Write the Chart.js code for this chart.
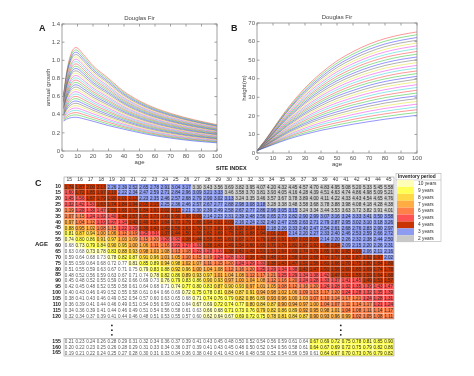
<!DOCTYPE html>
<html>
<head>
<meta charset="utf-8">
<script src="https://cdn.jsdelivr.net/npm/chart.js@4.4.1/dist/chart.umd.min.js"></script>
<style>
  body { margin: 0; background: #fff; width: 474px; height: 376px; position: relative; overflow: hidden;
         font-family: "Liberation Sans", Arial, sans-serif; }
  canvas { position: absolute; }
  .lbl { position: absolute; font-weight: bold; color: #222; line-height: 1; white-space: nowrap; }
</style>
</head>
<body>
<canvas id="chartA" width="237" height="175" style="left:0;top:0"></canvas>
<canvas id="chartB" width="237" height="175" style="left:237px;top:0"></canvas>
<canvas id="chartC" width="474" height="204" style="left:0;top:172px"></canvas>
<div class="lbl" style="left:39px;top:24px;font-size:9px">A</div>
<div class="lbl" style="left:231px;top:24px;font-size:9px">B</div>
<div class="lbl" style="left:35px;top:179px;font-size:9px">C</div>
<div class="lbl" style="left:216px;top:166px;font-size:5.5px">SITE INDEX</div>
<div class="lbl" style="left:35px;top:241px;font-size:6px">AGE</div>
<script>
// ---- data ----
var siteIndex = [15,16,17,18,19,20,21,22,23,24,25,26,27,28,29,30,31,32,33,34,35,36,37,38,39,40,41,42,43,44,45];

// panel A: annual growth, one row per site index
var agesA = [1, 3, 6, 9, 14, 20, 30, 40, 55, 70, 85, 100];
var growthA = [
  [0.330,0.352,0.368,0.372,0.355,0.328,0.280,0.240,0.184,0.142,0.111,0.090],
  [0.340,0.369,0.392,0.398,0.379,0.348,0.297,0.254,0.195,0.151,0.119,0.097],
  [0.349,0.387,0.415,0.423,0.402,0.369,0.315,0.268,0.206,0.160,0.127,0.103],
  [0.359,0.404,0.439,0.449,0.426,0.389,0.332,0.281,0.217,0.169,0.134,0.110],
  [0.369,0.421,0.463,0.474,0.449,0.410,0.349,0.295,0.227,0.178,0.142,0.117],
  [0.378,0.438,0.487,0.500,0.473,0.430,0.367,0.309,0.238,0.188,0.150,0.123],
  [0.388,0.456,0.510,0.526,0.496,0.450,0.384,0.323,0.249,0.197,0.158,0.130],
  [0.398,0.473,0.534,0.551,0.520,0.471,0.401,0.337,0.260,0.206,0.166,0.137],
  [0.407,0.490,0.558,0.577,0.543,0.491,0.419,0.351,0.271,0.215,0.173,0.143],
  [0.417,0.507,0.582,0.602,0.567,0.512,0.436,0.364,0.282,0.224,0.181,0.150],
  [0.427,0.525,0.605,0.628,0.590,0.532,0.453,0.378,0.293,0.233,0.189,0.157],
  [0.436,0.542,0.629,0.654,0.614,0.552,0.471,0.392,0.304,0.242,0.197,0.163],
  [0.446,0.559,0.653,0.679,0.637,0.573,0.488,0.406,0.314,0.251,0.205,0.170],
  [0.456,0.577,0.676,0.705,0.661,0.593,0.505,0.420,0.325,0.260,0.212,0.177],
  [0.465,0.594,0.700,0.730,0.684,0.614,0.523,0.434,0.336,0.269,0.220,0.183],
  [0.475,0.611,0.724,0.756,0.708,0.634,0.540,0.447,0.347,0.279,0.228,0.190],
  [0.485,0.628,0.748,0.782,0.731,0.654,0.557,0.461,0.358,0.288,0.236,0.197],
  [0.494,0.646,0.771,0.807,0.755,0.675,0.575,0.475,0.369,0.297,0.244,0.203],
  [0.504,0.663,0.795,0.833,0.778,0.695,0.592,0.489,0.380,0.306,0.251,0.210],
  [0.514,0.680,0.819,0.858,0.802,0.716,0.609,0.503,0.391,0.315,0.259,0.217],
  [0.523,0.697,0.843,0.884,0.825,0.736,0.627,0.517,0.401,0.324,0.267,0.223],
  [0.533,0.715,0.866,0.910,0.849,0.756,0.644,0.530,0.412,0.333,0.275,0.230],
  [0.543,0.732,0.890,0.935,0.872,0.777,0.661,0.544,0.423,0.342,0.283,0.237],
  [0.552,0.749,0.914,0.961,0.896,0.797,0.679,0.558,0.434,0.351,0.290,0.243],
  [0.562,0.766,0.938,0.986,0.919,0.818,0.696,0.572,0.445,0.360,0.298,0.250],
  [0.572,0.784,0.961,1.012,0.943,0.838,0.713,0.586,0.456,0.370,0.306,0.257],
  [0.581,0.801,0.985,1.038,0.966,0.858,0.731,0.600,0.467,0.379,0.314,0.263],
  [0.591,0.818,1.009,1.063,0.990,0.879,0.748,0.613,0.477,0.388,0.322,0.270],
  [0.601,0.836,1.032,1.089,1.013,0.899,0.765,0.627,0.488,0.397,0.329,0.277],
  [0.610,0.853,1.056,1.114,1.037,0.920,0.783,0.641,0.499,0.406,0.337,0.283],
  [0.620,0.870,1.080,1.140,1.060,0.940,0.800,0.655,0.510,0.415,0.345,0.290]
];

// panel B: height (m), one row per site index
var agesB = [0, 5, 10, 15, 20, 30, 40, 50, 60, 70, 80, 90, 100];
var heightB = [
  [1.3,2.9,4.5,6.1,7.6,10.1,12.2,13.9,15.5,16.9,18.2,19.3,20.3],
  [1.3,3.0,4.8,6.5,8.2,10.9,13.2,15.1,16.8,18.3,19.6,20.8,21.8],
  [1.3,3.2,5.1,7.0,8.8,11.8,14.3,16.3,18.1,19.7,21.1,22.3,23.3],
  [1.3,3.3,5.4,7.4,9.3,12.6,15.3,17.5,19.4,21.1,22.5,23.7,24.8],
  [1.3,3.4,5.6,7.8,9.9,13.4,16.3,18.7,20.7,22.5,24.0,25.2,26.3],
  [1.3,3.6,5.9,8.3,10.5,14.3,17.3,19.9,22.0,23.9,25.4,26.7,27.8],
  [1.3,3.7,6.2,8.7,11.1,15.1,18.4,21.0,23.3,25.2,26.9,28.2,29.3],
  [1.3,3.8,6.5,9.2,11.7,15.9,19.4,22.2,24.6,26.6,28.3,29.7,30.8],
  [1.3,3.9,6.8,9.6,12.2,16.7,20.4,23.4,25.9,28.0,29.8,31.1,32.3],
  [1.3,4.1,7.1,10.0,12.8,17.6,21.4,24.6,27.2,29.4,31.2,32.6,33.8],
  [1.3,4.2,7.3,10.5,13.4,18.4,22.5,25.8,28.5,30.8,32.7,34.1,35.3],
  [1.3,4.3,7.6,10.9,14.0,19.2,23.5,27.0,29.8,32.2,34.1,35.6,36.8],
  [1.3,4.5,7.9,11.3,14.6,20.1,24.5,28.2,31.1,33.6,35.6,37.1,38.3],
  [1.3,4.6,8.2,11.8,15.1,20.9,25.5,29.4,32.4,35.0,37.0,38.5,39.8],
  [1.3,4.7,8.5,12.2,15.7,21.7,26.6,30.6,33.7,36.4,38.5,40.0,41.3],
  [1.3,4.9,8.8,12.7,16.3,22.6,27.6,31.8,35.1,37.8,39.9,41.5,42.8],
  [1.3,5.0,9.0,13.1,16.9,23.4,28.6,32.9,36.4,39.1,41.3,43.0,44.2],
  [1.3,5.1,9.3,13.5,17.5,24.2,29.7,34.1,37.7,40.5,42.8,44.5,45.7],
  [1.3,5.2,9.6,14.0,18.0,25.0,30.7,35.3,39.0,41.9,44.2,45.9,47.2],
  [1.3,5.4,9.9,14.4,18.6,25.9,31.7,36.5,40.3,43.3,45.7,47.4,48.7],
  [1.3,5.5,10.2,14.8,19.2,26.7,32.7,37.7,41.6,44.7,47.1,48.9,50.2],
  [1.3,5.6,10.5,15.3,19.8,27.5,33.8,38.9,42.9,46.1,48.6,50.4,51.7],
  [1.3,5.8,10.7,15.7,20.4,28.4,34.8,40.1,44.2,47.5,50.0,51.9,53.2],
  [1.3,5.9,11.0,16.1,20.9,29.2,35.8,41.3,45.5,48.9,51.5,53.3,54.7],
  [1.3,6.0,11.3,16.6,21.5,30.0,36.8,42.5,46.8,50.3,52.9,54.8,56.2],
  [1.3,6.2,11.6,17.0,22.1,30.9,37.9,43.7,48.1,51.7,54.4,56.3,57.7],
  [1.3,6.3,11.9,17.5,22.7,31.7,38.9,44.8,49.4,53.0,55.8,57.8,59.2],
  [1.3,6.4,12.2,17.9,23.3,32.5,39.9,46.0,50.7,54.4,57.3,59.3,60.7],
  [1.3,6.5,12.4,18.3,23.8,33.3,40.9,47.2,52.0,55.8,58.7,60.7,62.2],
  [1.3,6.7,12.7,18.8,24.4,34.2,42.0,48.4,53.3,57.2,60.2,62.2,63.7],
  [1.3,6.8,13.0,19.2,25.0,35.0,43.0,49.6,54.6,58.6,61.6,63.7,65.2]
];

// panel C: table rows (age) x columns (site index)
var tableAges = [10,15,20,25,30,35,40,45,50,55,60,65,70,75,80,85,90,95,100,105,110,115,120,155,160,165];
var tableValues = [
  [1.74,1.87,2.00,2.13,2.26,2.39,2.52,2.65,2.78,2.91,3.04,3.17,3.30,3.43,3.56,3.69,3.82,3.95,4.07,4.20,4.32,4.45,4.57,4.70,4.83,4.95,5.08,5.20,5.33,5.45,5.58],
  [1.60,1.72,1.85,1.97,2.10,2.22,2.34,2.47,2.59,2.71,2.84,2.96,3.09,3.21,3.33,3.46,3.58,3.70,3.81,3.93,4.05,4.16,4.28,4.39,4.51,4.63,4.74,4.86,4.98,5.09,5.21],
  [1.45,1.56,1.67,1.79,1.90,2.01,2.12,2.23,2.35,2.46,2.57,2.68,2.79,2.90,3.02,3.13,3.24,3.35,3.46,3.57,3.67,3.78,3.89,4.00,4.11,4.22,4.33,4.43,4.54,4.65,4.76],
  [1.32,1.42,1.53,1.63,1.74,1.84,1.94,2.05,2.15,2.25,2.36,2.46,2.57,2.67,2.77,2.88,2.98,3.08,3.18,3.28,3.38,3.48,3.58,3.68,3.78,3.88,3.98,4.08,4.18,4.28,4.38],
  [1.19,1.28,1.38,1.47,1.56,1.65,1.75,1.84,1.93,2.02,2.12,2.21,2.30,2.39,2.49,2.58,2.67,2.77,2.86,2.96,3.05,3.15,3.24,3.34,3.44,3.53,3.63,3.72,3.82,3.91,4.01],
  [1.07,1.15,1.24,1.32,1.40,1.48,1.57,1.65,1.73,1.81,1.90,1.98,2.06,2.14,2.23,2.31,2.39,2.48,2.56,2.65,2.73,2.82,2.90,2.99,3.07,3.16,3.24,3.33,3.41,3.50,3.58],
  [0.97,1.04,1.12,1.19,1.27,1.34,1.42,1.49,1.57,1.64,1.71,1.79,1.86,1.94,2.01,2.09,2.16,2.24,2.32,2.40,2.47,2.55,2.63,2.71,2.79,2.87,2.95,3.02,3.10,3.18,3.26],
  [0.88,0.95,1.02,1.08,1.15,1.22,1.29,1.36,1.43,1.49,1.56,1.63,1.70,1.77,1.83,1.90,1.97,2.04,2.11,2.18,2.26,2.33,2.40,2.47,2.54,2.61,2.68,2.76,2.83,2.90,2.97],
  [0.81,0.87,0.94,1.00,1.06,1.12,1.19,1.25,1.31,1.37,1.44,1.50,1.56,1.62,1.69,1.75,1.81,1.88,1.94,2.01,2.07,2.14,2.20,2.27,2.33,2.40,2.46,2.53,2.59,2.66,2.72],
  [0.74,0.80,0.86,0.91,0.97,1.03,1.09,1.15,1.20,1.26,1.32,1.38,1.44,1.50,1.55,1.61,1.67,1.73,1.79,1.85,1.91,1.97,2.03,2.09,2.14,2.20,2.26,2.32,2.38,2.44,2.50],
  [0.68,0.73,0.79,0.84,0.90,0.95,1.00,1.06,1.11,1.16,1.22,1.27,1.33,1.38,1.43,1.49,1.54,1.60,1.65,1.71,1.76,1.82,1.87,1.93,1.98,2.04,2.09,2.15,2.20,2.26,2.31],
  [0.63,0.68,0.73,0.78,0.83,0.88,0.93,0.98,1.03,1.08,1.13,1.18,1.23,1.28,1.33,1.38,1.43,1.48,1.53,1.59,1.64,1.69,1.74,1.79,1.85,1.90,1.95,2.00,2.06,2.11,2.16],
  [0.59,0.64,0.68,0.73,0.78,0.82,0.87,0.91,0.96,1.01,1.05,1.10,1.15,1.19,1.24,1.28,1.33,1.38,1.43,1.48,1.53,1.58,1.63,1.68,1.72,1.77,1.82,1.87,1.92,1.97,2.02],
  [0.55,0.59,0.64,0.68,0.72,0.77,0.81,0.85,0.89,0.94,0.98,1.02,1.07,1.11,1.15,1.20,1.24,1.29,1.33,1.38,1.43,1.47,1.52,1.56,1.61,1.66,1.70,1.75,1.80,1.84,1.89],
  [0.51,0.55,0.59,0.63,0.67,0.71,0.75,0.79,0.83,0.88,0.92,0.96,1.00,1.04,1.08,1.12,1.16,1.20,1.25,1.29,1.34,1.38,1.43,1.47,1.51,1.56,1.60,1.65,1.69,1.74,1.78],
  [0.48,0.52,0.56,0.59,0.63,0.67,0.71,0.74,0.78,0.82,0.86,0.89,0.93,0.97,1.01,1.04,1.08,1.12,1.17,1.21,1.25,1.29,1.34,1.38,1.42,1.47,1.51,1.55,1.59,1.64,1.68],
  [0.45,0.48,0.52,0.55,0.59,0.62,0.66,0.69,0.73,0.76,0.79,0.83,0.86,0.90,0.93,0.97,1.00,1.04,1.08,1.12,1.16,1.20,1.24,1.28,1.33,1.37,1.41,1.45,1.49,1.53,1.57],
  [0.42,0.45,0.48,0.52,0.55,0.58,0.61,0.64,0.68,0.71,0.74,0.77,0.80,0.83,0.87,0.90,0.93,0.97,1.01,1.05,1.08,1.12,1.16,1.20,1.24,1.28,1.32,1.35,1.39,1.43,1.47],
  [0.40,0.43,0.46,0.49,0.52,0.55,0.58,0.61,0.64,0.66,0.69,0.72,0.75,0.78,0.81,0.84,0.87,0.91,0.94,0.98,1.02,1.06,1.09,1.13,1.17,1.20,1.24,1.28,1.32,1.35,1.39],
  [0.38,0.41,0.43,0.46,0.49,0.52,0.54,0.57,0.60,0.63,0.65,0.68,0.71,0.74,0.76,0.79,0.82,0.86,0.89,0.93,0.96,1.00,1.03,1.07,1.10,1.14,1.17,1.21,1.24,1.28,1.31],
  [0.36,0.39,0.41,0.44,0.46,0.49,0.51,0.54,0.56,0.59,0.62,0.64,0.67,0.69,0.72,0.74,0.77,0.80,0.84,0.87,0.90,0.94,0.97,1.00,1.04,1.07,1.11,1.14,1.17,1.21,1.24],
  [0.34,0.36,0.39,0.41,0.44,0.46,0.49,0.51,0.54,0.56,0.58,0.61,0.63,0.66,0.68,0.71,0.73,0.76,0.79,0.82,0.86,0.89,0.92,0.95,0.98,1.01,1.04,1.08,1.11,1.14,1.17],
  [0.32,0.34,0.37,0.39,0.41,0.44,0.46,0.48,0.51,0.53,0.55,0.57,0.60,0.62,0.64,0.67,0.69,0.72,0.75,0.78,0.81,0.84,0.87,0.90,0.93,0.96,0.99,1.02,1.05,1.08,1.11],
  [0.21,0.23,0.24,0.26,0.28,0.29,0.31,0.32,0.34,0.36,0.37,0.39,0.41,0.43,0.45,0.48,0.50,0.52,0.54,0.56,0.59,0.61,0.64,0.67,0.69,0.72,0.75,0.78,0.81,0.85,0.90],
  [0.20,0.22,0.23,0.25,0.26,0.28,0.29,0.31,0.33,0.34,0.36,0.37,0.39,0.41,0.43,0.45,0.48,0.50,0.52,0.54,0.56,0.58,0.61,0.64,0.67,0.69,0.72,0.75,0.79,0.82,0.86],
  [0.19,0.21,0.22,0.24,0.25,0.27,0.28,0.30,0.31,0.33,0.34,0.36,0.38,0.40,0.41,0.43,0.46,0.48,0.50,0.52,0.54,0.56,0.59,0.61,0.64,0.67,0.70,0.73,0.76,0.79,0.82]
];

// inventory period of each cell, run-length coded per row ("period:count"), T = 10 years, . = none
var periodRuns = [
  '4:4 3:8 2:19',
  '5:1 4:4 3:10 2:16',
  '5:2 4:5 3:9 2:15',
  '5:3 4:6 3:10 2:12',
  '6:1 5:3 4:7 3:11 2:9',
  '6:2 5:3 4:8 3:18',
  '7:1 6:2 5:3 4:10 3:15',
  '8:1 7:2 6:2 5:2 4:12 3:12',
  '9:1 8:2 7:2 6:2 5:2 4:12 3:10',
  'T:1 9:2 8:2 7:2 6:2 5:2 4:13 3:7',
  '.:1 T:1 9:2 8:2 7:2 6:2 5:3 4:13 3:5',
  '.:2 T:2 9:1 8:2 7:3 6:2 5:3 4:13 3:3',
  '.:4 T:1 9:2 8:2 7:2 6:3 5:3 4:13 3:1',
  '.:6 T:1 9:2 8:2 7:2 6:3 5:3 4:12',
  '.:7 T:1 9:2 8:2 7:3 6:3 5:4 4:9',
  '.:8 T:1 9:2 8:3 7:3 6:3 5:5 4:6',
  '.:9 T:1 9:3 8:2 7:4 6:3 5:6 4:3',
  '.:10 T:1 9:3 8:3 7:3 6:4 5:7',
  '.:11 T:1 9:3 8:3 7:4 6:4 5:5',
  '.:12 T:1 9:3 8:3 7:4 6:5 5:3',
  '.:12 T:2 9:3 8:3 7:4 6:5 5:2',
  '.:13 T:2 9:3 8:4 7:4 6:5',
  '.:13 T:3 9:3 8:4 7:4 6:4',
  '.:23 9:8',
  '.:23 9:8',
  '.:24 9:7'
];

var periodKeys = ['T','9','8','7','6','5','4','3','2'];
var periodLabels = ['10 years','9 years','8 years','7 years','6 years','5 years','4 years','3 years','2 years'];

// ---- styles ----
var FONT = '"Liberation Sans", Arial, sans-serif';
Chart.defaults.font.family = FONT;
Chart.defaults.color = '#444';

var lineColors = ['#2a2aff','#22c022','#ff3030','#20d0d0','#e830e8','#dede20','#606060'];
var periodColors = {
  'T': '#ffffb8', '9': '#ffff55', '8': '#ffd945', '7': '#ffad42', '6': '#ff8048',
  '5': '#ff5252', '4': '#c93300', '3': '#8d9cf0', '2': '#c8c8c8', '.': '#ffffff'
};

function decodeRuns(str) {
  var out = [];
  str.split(' ').forEach(function (part) {
    var kv = part.split(':');
    for (var k = 0; k < +kv[1]; k++) out.push(kv[0]);
  });
  return out;
}
var periods = periodRuns.map(decodeRuns);

// frame, inward ticks and title for panels A and B
var panelFrame = {
  id: 'panelFrame',
  afterDraw: function (chart, args, opts) {
    var ctx = chart.ctx, a = chart.chartArea, sx = chart.scales.x, sy = chart.scales.y;
    ctx.save();
    ctx.strokeStyle = '#8a8a8a';
    ctx.lineWidth = 0.8;
    ctx.strokeRect(a.left, a.top, a.right - a.left, a.bottom - a.top);
    ctx.beginPath();
    sx.ticks.forEach(function (t) {
      var px = sx.getPixelForValue(t.value);
      ctx.moveTo(px, a.bottom); ctx.lineTo(px, a.bottom - 2.5);
      ctx.moveTo(px, a.top); ctx.lineTo(px, a.top + 2.5);
    });
    sy.ticks.forEach(function (t) {
      var py = sy.getPixelForValue(t.value);
      ctx.moveTo(a.left, py); ctx.lineTo(a.left + 2.5, py);
      ctx.moveTo(a.right, py); ctx.lineTo(a.right - 2.5, py);
    });
    ctx.stroke();
    ctx.fillStyle = '#444';
    ctx.font = '6px ' + FONT;
    ctx.textAlign = 'center';
    ctx.textBaseline = 'middle';
    ctx.fillText(opts.text, (a.left + a.right) / 2, a.top - 5.5);
    ctx.restore();
  }
};

function curveSets(ages, rows) {
  return rows.map(function (vals, i) {
    return {
      label: 'SI ' + siteIndex[i],
      data: vals.map(function (v, j) { return {x: ages[j], y: v}; }),
      borderColor: lineColors[i % lineColors.length],
      borderWidth: 0.5,
      pointRadius: 0,
      fill: false,
      cubicInterpolationMode: 'monotone'
    };
  });
}

function curveOptions(o) {
  return {
    responsive: false,
    animation: false,
    devicePixelRatio: 1,
    events: [],
    layout: {padding: o.padding},
    plugins: {legend: {display: false}, tooltip: {enabled: false}, panelFrame: {text: 'Douglas Fir'}},
    scales: {
      x: {
        type: 'linear', min: 0, max: 100,
        afterFit: function (s) { s.height = o.xHeight; },
        ticks: {stepSize: 10, padding: 1.5, maxRotation: 0, font: {size: 6}, color: '#555'},
        grid: {display: false, drawTicks: false},
        border: {display: false},
        title: {display: true, text: 'age', font: {size: 6}, color: '#444', padding: {top: 0, bottom: o.xTitlePad}}
      },
      y: {
        min: 0, max: o.yMax,
        afterFit: function (s) { s.width = o.yWidth; },
        ticks: {stepSize: o.yStep, padding: 2, font: {size: 6}, color: '#555'},
        grid: {display: false, drawTicks: false},
        border: {display: false},
        title: {display: true, text: o.yTitle, font: {size: 6}, color: '#444', padding: {top: o.yTitlePad, bottom: 0}}
      }
    }
  };
}

new Chart(document.getElementById('chartA'), {
  type: 'line',
  data: {datasets: curveSets(agesA, growthA)},
  options: curveOptions({padding: {left: 0, right: 20, top: 24, bottom: 0},
    yWidth: 62, xHeight: 24, yMax: 1.4, yStep: 0.2, yTitle: 'annual growth', yTitlePad: 45, xTitlePad: 9}),
  plugins: [panelFrame]
});

new Chart(document.getElementById('chartB'), {
  type: 'line',
  data: {datasets: curveSets(agesB, heightB)},
  options: curveOptions({padding: {left: 0, right: 57, top: 23, bottom: 0},
    yWidth: 20, xHeight: 22, yMax: 70, yStep: 10, yTitle: 'height(m)', yTitlePad: 3.4, xTitlePad: 7.4}),
  plugins: [panelFrame]
});

// ---- panel C: table drawn as floating bars ----
var ROW_GAP = 3.3;
var lastMain = tableAges.indexOf(120);
var rowY = tableAges.map(function (a, i) { return i > lastMain ? i + ROW_GAP : i; });

var tableSets = tableValues.map(function (vals, r) {
  return {
    label: 'age ' + tableAges[r],
    data: vals.map(function () { return [rowY[r] - 0.5, rowY[r] + 0.5]; }),
    backgroundColor: periods[r].map(function (p) { return periodColors[p]; }),
    borderColor: 'rgba(255,255,255,0.75)',
    borderWidth: 0.4,
    borderSkipped: false
  };
});

var tablePlugin = {
  id: 'tableText',
  afterDatasetsDraw: function (chart) {
    var ctx = chart.ctx, a = chart.chartArea, sx = chart.scales.x, sy = chart.scales.y;
    ctx.save();
    ctx.font = '4.6px ' + FONT;
    ctx.textAlign = 'center';
    ctx.textBaseline = 'middle';
    tableValues.forEach(function (vals, r) {
      chart.getDatasetMeta(r).data.forEach(function (bar, c) {
        var pt = bar.getCenterPoint();
        ctx.fillStyle = periods[r][c] === '.' ? '#555' : '#2a2a2a';
        ctx.fillText(vals[c].toFixed(2), pt.x, pt.y + 0.3);
      });
    });
    // table borders
    ctx.strokeStyle = '#9a9a9a';
    ctx.lineWidth = 0.6;
    var mainBottom = sy.getPixelForValue(rowY[lastMain] + 0.5);
    ctx.strokeRect(a.left, a.top - 7, a.right - a.left, mainBottom - a.top + 7);
    var lowTop = sy.getPixelForValue(rowY[lastMain + 1] - 0.5);
    ctx.strokeRect(a.left, lowTop, a.right - a.left, a.bottom - lowTop);
    // vertical ellipsis in the gap
    ctx.fillStyle = '#222';
    [4, 25.5].forEach(function (ci) {
      var px = sx.getPixelForValue(ci);
      [23.6, 24.4, 25.2].forEach(function (rv) {
        ctx.beginPath();
        ctx.arc(px, sy.getPixelForValue(rv), 0.9, 0, Math.PI * 2);
        ctx.fill();
      });
    });
    // legend
    var lx = a.right + 3;
    ctx.strokeStyle = '#a0a0a0';
    ctx.lineWidth = 0.5;
    ctx.strokeRect(lx - 1, 1.5, 45, 68);
    ctx.beginPath(); ctx.moveTo(lx - 1, 8); ctx.lineTo(lx + 44, 8); ctx.stroke();
    ctx.fillStyle = '#222';
    ctx.font = 'bold 4.8px ' + FONT;
    ctx.textAlign = 'left';
    ctx.fillText('Inventory period', lx + 1, 4.9);
    ctx.font = '4.8px ' + FONT;
    periodKeys.forEach(function (k, i) {
      var cy = 11.5 + 6.9 * i;
      ctx.fillStyle = periodColors[k];
      ctx.fillRect(lx, cy - 3.45, 17, 6.9);
      ctx.fillStyle = '#333';
      ctx.fillText(periodLabels[i], lx + 21, cy);
    });
    ctx.restore();
  }
};

new Chart(document.getElementById('chartC'), {
  type: 'bar',
  data: {labels: siteIndex.map(String), datasets: tableSets},
  options: {
    responsive: false,
    animation: false,
    devicePixelRatio: 1,
    events: [],
    layout: {padding: {left: 0, right: 80, top: 0, bottom: 20}},
    datasets: {bar: {grouped: false, barPercentage: 1, categoryPercentage: 1}},
    plugins: {legend: {display: false}, tooltip: {enabled: false}},
    scales: {
      x: {
        position: 'top',
        afterFit: function (s) { s.height = 12; },
        ticks: {autoSkip: false, maxRotation: 0, padding: 1, font: {size: 5}, color: '#333'},
        grid: {display: false, drawTicks: false},
        border: {display: false}
      },
      y: {
        type: 'linear', reverse: true, min: -0.5, max: rowY[rowY.length - 1] + 0.5,
        afterFit: function (s) { s.width = 64; },
        afterBuildTicks: function (s) { s.ticks = rowY.map(function (v) { return {value: v}; }); },
        ticks: {
          autoSkip: false, padding: 3, color: '#222',
          font: {size: 5.2, weight: 'bold', lineHeight: 1},
          callback: function (v, i) { return tableAges[i]; }
        },
        grid: {display: false, drawTicks: false},
        border: {display: false}
      }
    }
  },
  plugins: [tablePlugin]
});
</script>
</body>
</html>
